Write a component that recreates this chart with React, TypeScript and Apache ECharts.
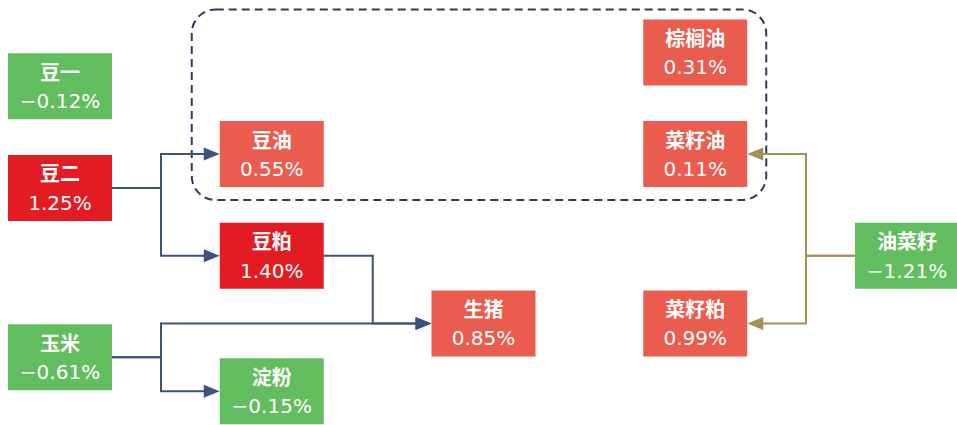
import React, { useEffect, useRef } from 'react';
import * as echarts from 'echarts';

// Node data
const names = ['豆一', '豆二', '豆油', '豆粕', '玉米', '淀粉', '生猪', '棕榈油', '菜籽油', '菜籽粕', '油菜籽'];
const changes = [-0.12, 1.25, 0.55, 1.40, -0.61, -0.15, 0.85, 0.31, 0.11, 0.99, -1.21];
// layout grid (column, row) for each node
const columns = [0, 0, 1, 1, 0, 1, 2, 3, 3, 3, 4];
const rows = [2, 5, 4, 7, 10, 11, 9, 1, 4, 9, 7];
// supply-chain links: [source, target]
const links: [string, string][] = [
  ['豆二', '豆油'],
  ['豆二', '豆粕'],
  ['豆粕', '生猪'],
  ['玉米', '生猪'],
  ['玉米', '淀粉'],
  ['油菜籽', '菜籽油'],
  ['油菜籽', '菜籽粕'],
];
// nodes grouped by the dashed frame
const oilGroup = ['豆油', '棕榈油', '菜籽油'];

const BOX_W = 104;
const BOX_H = 66;
const ELBOW = 49;
const ARROW_L = 16;
const ARROW_W = 13;
const NAVY = '#3f5279';
const TAN = '#a68e58';
const GREEN = '#62bd5e';
const DEEP_RED = '#e31b23';
const CORAL = '#e95c4e';

const idx = (n: string) => names.indexOf(n);
const fmt = (v: number) => (v < 0 ? '−' : '') + Math.abs(v).toFixed(2) + '%';
const colorOf = (v: number) => (v < 0 ? GREEN : v >= 1 ? DEEP_RED : CORAL);

export default function App() {
  const ref = useRef<HTMLDivElement>(null);
  useEffect(() => {
    document.body.style.margin = '0';
    const chart = echarts.init(ref.current!, null, { renderer: 'svg' });

    const linkData = links.map(([s, t]) => [columns[idx(s)], rows[idx(s)], columns[idx(t)], rows[idx(t)], s === '油菜籽' ? 1 : 0]);
    const gi = oilGroup.map(idx);
    const groupData = [[
      Math.min(...gi.map((i) => columns[i])),
      Math.min(...gi.map((i) => rows[i])),
      Math.max(...gi.map((i) => columns[i])),
      Math.max(...gi.map((i) => rows[i])),
    ]];

    const option: any = {
      animation: false,
      grid: { left: 60, width: 847, top: 18.5, height: 408 },
      xAxis: { type: 'value', min: 0, max: 4, show: false },
      yAxis: { type: 'value', min: 0, max: 12, inverse: true, show: false },
      series: [
        {
          type: 'custom',
          coordinateSystem: 'cartesian2d',
          z: 1,
          silent: true,
          data: groupData,
          encode: { x: [0, 2], y: [1, 3] },
          renderItem: (params: any, api: any) => {
            const a = api.coord([api.value(0), api.value(1)]);
            const b = api.coord([api.value(2), api.value(3)]);
            const x0 = a[0] - BOX_W / 2 - 28;
            const y0 = a[1] - BOX_H / 2 - 10;
            const x1 = b[0] + BOX_W / 2 + 19;
            const y1 = b[1] + BOX_H / 2 + 13;
            return {
              type: 'rect',
              shape: { x: x0, y: y0, width: x1 - x0, height: y1 - y0, r: 24 },
              style: { fill: 'none', stroke: '#2c3b57', lineWidth: 2, lineDash: [8, 5] },
            };
          },
        },
        {
          type: 'custom',
          coordinateSystem: 'cartesian2d',
          z: 2,
          silent: true,
          data: linkData,
          encode: { x: [0, 2], y: [1, 3] },
          renderItem: (params: any, api: any) => {
            const s = api.coord([api.value(0), api.value(1)]);
            const t = api.coord([api.value(2), api.value(3)]);
            const color = api.value(4) === 1 ? TAN : NAVY;
            const dir = t[0] > s[0] ? 1 : -1;
            const sx = s[0] + dir * BOX_W / 2;
            const ex = sx + dir * ELBOW;
            const tx = t[0] - dir * BOX_W / 2;
            const baseX = tx - dir * ARROW_L;
            return {
              type: 'group',
              children: [
                {
                  type: 'polyline',
                  shape: { points: [[sx, s[1]], [ex, s[1]], [ex, t[1]], [baseX + dir * 2, t[1]]] },
                  style: { fill: 'none', stroke: color, lineWidth: 2 },
                },
                {
                  type: 'polygon',
                  shape: { points: [[tx, t[1]], [baseX, t[1] - ARROW_W / 2], [baseX, t[1] + ARROW_W / 2]] },
                  style: { fill: color },
                },
              ],
            };
          },
        },
        {
          type: 'scatter',
          z: 3,
          symbol: 'rect',
          symbolSize: [BOX_W, BOX_H],
          silent: true,
          data: names.map((n, i) => ({
            name: n,
            value: [columns[i], rows[i], changes[i]],
            itemStyle: { color: colorOf(changes[i]), opacity: 1 },
          })),
          label: {
            show: true,
            position: 'inside',
            color: '#fff',
            formatter: (p: any) => `{n|${p.name}}\n{v|${fmt(p.value[2])}}`,
            rich: {
              n: {
                color: '#fff',
                fontSize: 20,
                fontWeight: 'bold',
                lineHeight: 30,
                fontFamily: '"Noto Sans CJK SC", sans-serif',
              },
              v: {
                color: '#fff',
                fontSize: 20,
                fontWeight: 'normal',
                lineHeight: 30,
                fontFamily: '"DejaVu Sans", sans-serif',
              },
            },
          },
        },
      ],
    };
    chart.setOption(option);
    return () => chart.dispose();
  }, []);
  return <div ref={ref} style={{ width: 957, height: 425 }} />;
}
